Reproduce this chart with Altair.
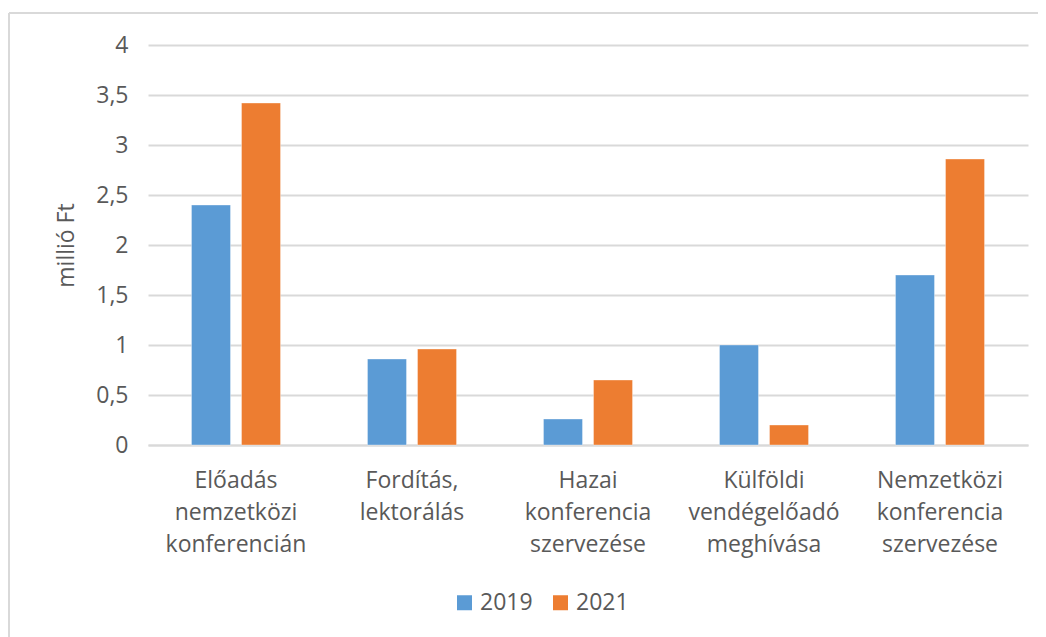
import altair as alt
import pandas as pd

categories = [
    "Előadás nemzetközi konferencián",
    "Fordítás, lektorálás",
    "Hazai konferencia szervezése",
    "Külföldi vendégelőadó meghívása",
    "Nemzetközi konferencia szervezése",
]
years = ["2019", "2021"]
values_2019 = [2.40, 0.86, 0.26, 1.00, 1.70]
values_2021 = [3.42, 0.96, 0.65, 0.20, 2.86]
y_ticks = [0, 0.5, 1, 1.5, 2, 2.5, 3, 3.5, 4]
colors = ["#5B9BD5", "#ED7D31"]

rows = []
for c, a, b in zip(categories, values_2019, values_2021):
    rows.append({"kategoria": c, "ev": "2019", "ertek": a})
    rows.append({"kategoria": c, "ev": "2021", "ertek": b})
df = pd.DataFrame(rows)

FONT = "Open Sans"
TXT = "#595959"
GRID = "#D9D9D9"
FS = 23

bars = alt.Chart(df).mark_bar(stroke="white", strokeWidth=0.6, strokeOpacity=0.6).encode(
    x=alt.X(
        "kategoria:N",
        sort=categories,
        title=None,
        scale=alt.Scale(paddingInner=0.494, paddingOuter=0.247),
        axis=alt.Axis(
            labelAngle=0,
            labelExpr="split(datum.label, ' ')",
            labelLineHeight=32,
            labelBaseline="alphabetic",
            labelPadding=42,
            labelFontSize=FS,
            labelFont=FONT,
            labelColor=TXT,
            ticks=False,
            domain=True,
            domainColor=GRID,
            domainWidth=1.8,
            grid=False,
            labelLimit=300,
        ),
    ),
    xOffset=alt.XOffset("ev:N", sort=years, scale=alt.Scale(paddingInner=0.22, paddingOuter=0)),
    y=alt.Y(
        "ertek:Q",
        title="millió Ft",
        scale=alt.Scale(domain=[0, 4], nice=False),
        axis=alt.Axis(
            values=y_ticks,
            labelExpr="replace(format(datum.value, '.1~f'), '.', ',')",
            labelFontSize=FS,
            labelFont=FONT,
            labelColor=TXT,
            labelPadding=20,
            ticks=False,
            domain=False,
            grid=True,
            gridColor=GRID,
            gridWidth=1.8,
            titleFont=FONT,
            titleFontSize=FS,
            titleFontWeight="normal",
            titleColor=TXT,
            titleAngle=-90,
            titleX=-82,
            titleY=200,
            titleAlign="center",
            titleBaseline="middle",
        ),
    ),
    color=alt.Color(
        "ev:N",
        sort=years,
        scale=alt.Scale(domain=years, range=colors),
        legend=alt.Legend(
            title=None,
            orient="none",
            direction="horizontal",
            legendX=305,
            legendY=546,
            symbolType="square",
            symbolSize=225,
            symbolStrokeWidth=0,
            labelFont=FONT,
            labelFontSize=FS,
            labelColor=TXT,
            labelOffset=4,
            columnPadding=16,
        ),
    ),
)

frame_df = pd.DataFrame({"k": [0]})
top_line = alt.Chart(frame_df).mark_rule(color=GRID, strokeWidth=2).encode(
    x=alt.value(-139), x2=alt.value(900), y=alt.value(-32)
)
left_line = alt.Chart(frame_df).mark_rule(color=GRID, strokeWidth=2).encode(
    x=alt.value(-139), y=alt.value(-32), y2=alt.value(640)
)

chart = (
    alt.layer(top_line, left_line, bars)
    .properties(
        width=880,
        height=400,
        autosize=alt.AutoSizeParams(type="none"),
        padding={"left": 140, "top": 37, "right": 10, "bottom": 192},
    )
    .configure_view(stroke=None)
)

chart.save("out.html", embed_options={"renderer": "svg", "actions": False})
